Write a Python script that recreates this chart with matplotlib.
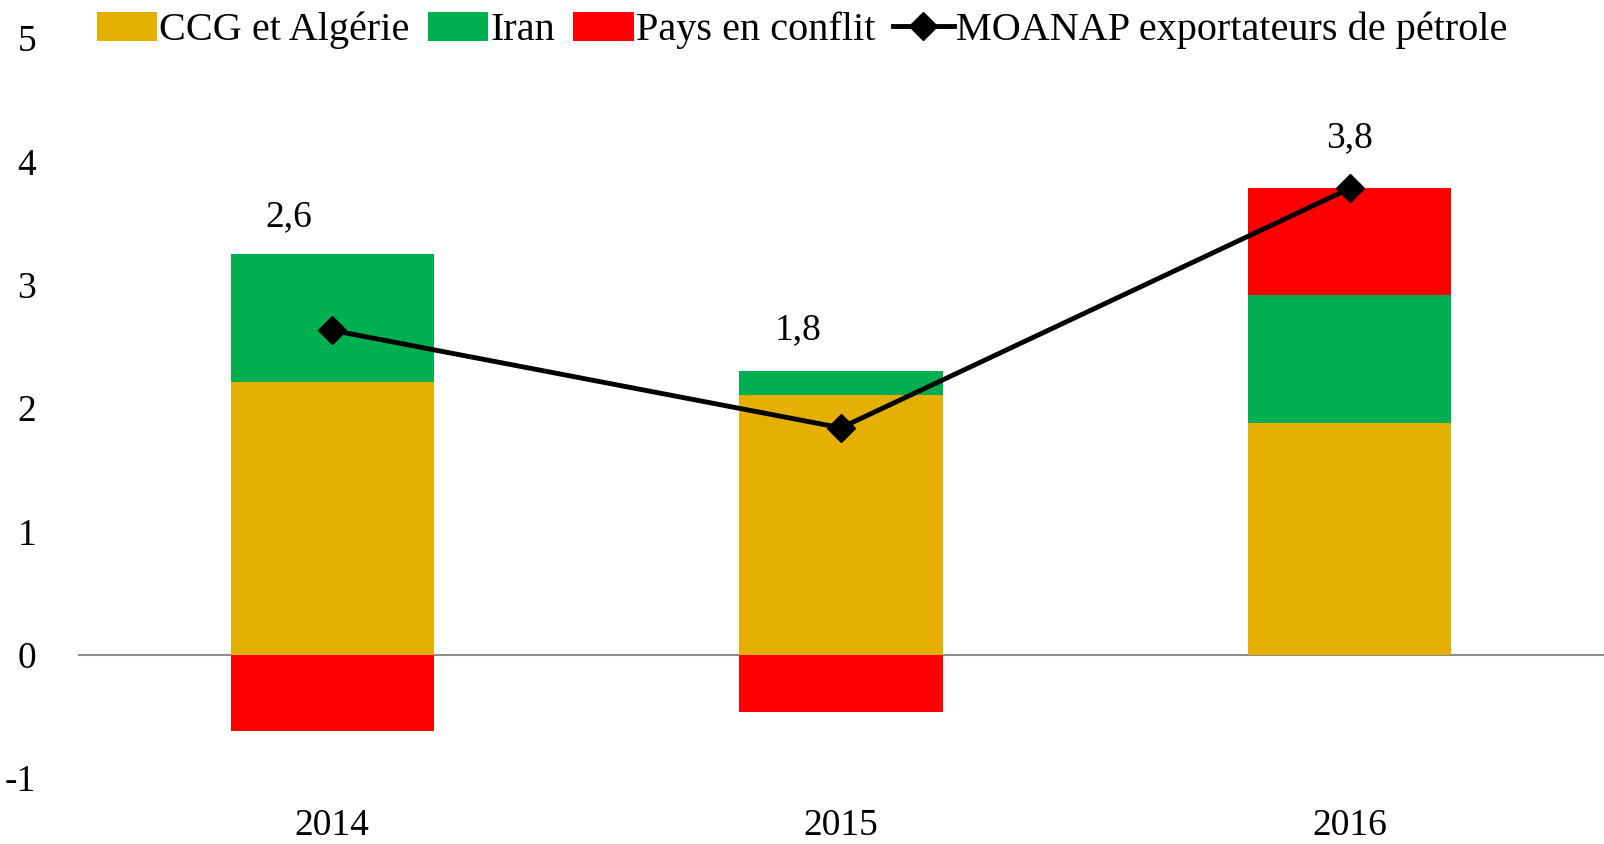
import matplotlib.pyplot as plt
import numpy as np

plt.rcParams['font.family'] = ['Liberation Serif', 'DejaVu Serif']
plt.rcParams['axes.unicode_minus'] = False

# donnees
years = ['2014', '2015', '2016']
ccg = [2.21, 2.11, 1.88]
iran = [1.04, 0.19, 1.04]
conflit = [-0.62, -0.46, 0.86]
moanap = [2.63, 1.84, 3.78]
labels = ['2,6', '1,8', '3,8']
label_y = [3.55, 2.63, 4.19]
label_dx = [-0.085, -0.085, 0.0]

fig = plt.figure(figsize=(16.04, 8.44), dpi=100)
ax = fig.add_axes([0.0486, 0.078, 0.9514, 0.877])

x = np.arange(len(years))
w = 0.4
c_ccg = '#E5AF00'
c_iran = '#00B050'
c_conf = '#FF0000'

b1 = ax.bar(x, ccg, w, color=c_ccg, label='CCG et Algérie', zorder=2)
b2 = ax.bar(x, iran, w, bottom=ccg, color=c_iran, label='Iran', zorder=2)
# conflit : negatif sous zero, positif au-dessus de ccg+iran
bot = [c + i if v > 0 else 0 for c, i, v in zip(ccg, iran, conflit)]
b3 = ax.bar(x, conflit, w, bottom=bot, color=c_conf, label='Pays en conflit', zorder=2)
ln, = ax.plot(x, moanap, color='black', lw=3.5, marker='D', markersize=14,
              label='MOANAP exportateurs de pétrole', zorder=3)

for i in range(len(years)):
    ax.text(x[i] + label_dx[i], label_y[i], labels[i], ha='center', va='center', fontsize=27)

ax.axhline(0, color='#8c8c8c', lw=1.5, zorder=1)
ax.set_xlim(-0.5, 2.5)
ax.set_ylim(-1, 5)
ax.set_yticks(range(-1, 6))
ax.set_xticks(x)
ax.set_xticklabels(years)
ax.tick_params(axis='both', length=0, labelsize=27)
ax.tick_params(axis='y', pad=30)
ax.tick_params(axis='x', pad=22)
for s in ax.spines.values():
    s.set_visible(False)

fig.legend([b1, b2, b3, ln], [b1.get_label(), b2.get_label(), b3.get_label(), ln.get_label()],
           loc='upper center', bbox_to_anchor=(0.5, 1.015), ncol=4, frameon=False,
           fontsize=29, handlelength=1.5, handleheight=0.75, handletextpad=0.05,
           columnspacing=0.45, borderaxespad=0.2)

fig.savefig('out.png', dpi=100)
